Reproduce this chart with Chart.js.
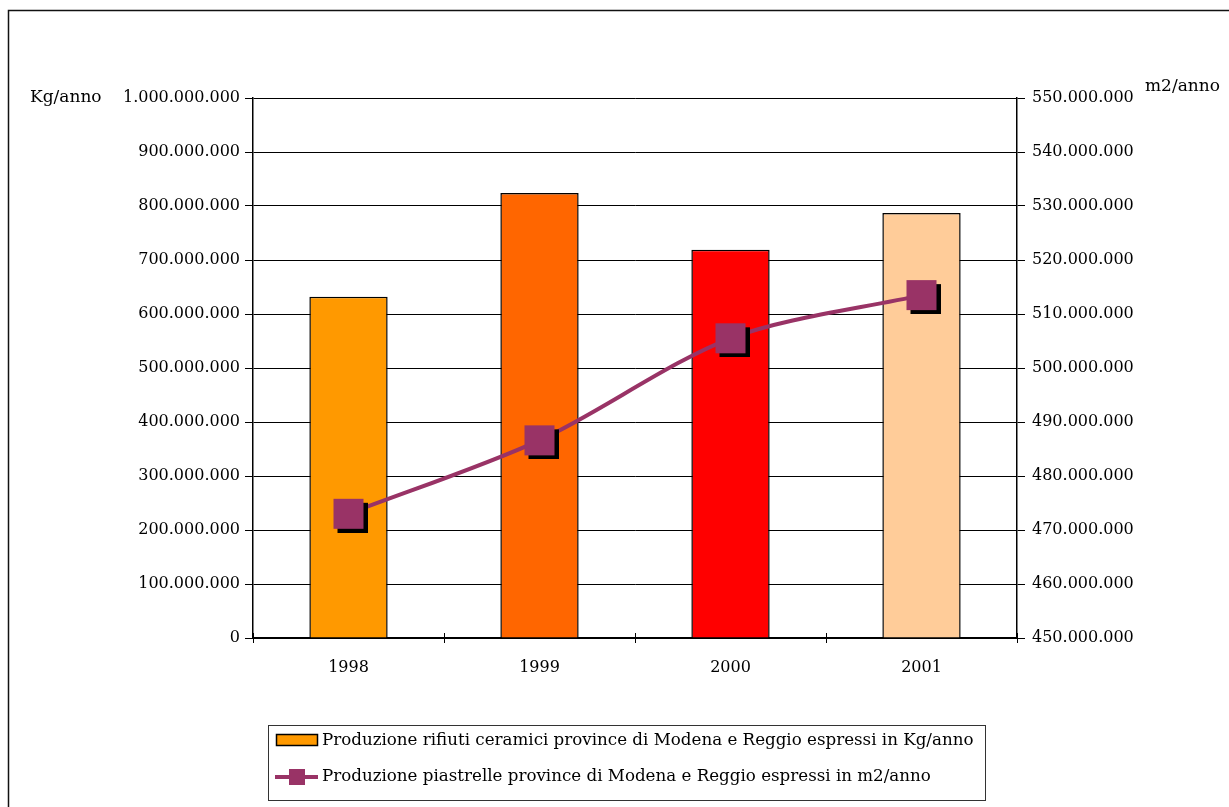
<!DOCTYPE html>
<html>
<head>
<meta charset="utf-8">
<script src="https://cdn.jsdelivr.net/npm/chart.js@4/dist/chart.umd.min.js"></script>
<style>
  body { margin: 0; background: #fff; }
  canvas { display: block; }
</style>
</head>
<body>
<canvas id="grafico" width="1229" height="807"></canvas>
<script>
// dati
const anni = ['1998', '1999', '2000', '2001'];
const rifiutiKg = [632000000, 824000000, 719000000, 787000000];
const piastrelleM2 = [473000000, 486600000, 505500000, 513500000];
const coloriBarre = ['#FF9900', '#FF6600', '#FF0000', '#FFCC99'];
const etichettaRifiuti = 'Produzione rifiuti ceramici province di Modena e Reggio espressi in Kg/anno';
const etichettaPiastrelle = 'Produzione piastrelle province di Modena e Reggio espressi in m2/anno';

const FONT = 'DejaVu Serif';
const PLUM = '#993366';

function formatta(v) {
    return String(Math.round(v)).replace(/\B(?=(\d{3})+(?!\d))/g, '.');
}

// marcatore quadrato con ombra
function marcatore(size, off) {
    const c = document.createElement('canvas');
    const tot = size + off * 2;
    c.width = tot; c.height = tot;
    const g = c.getContext('2d');
    g.fillStyle = '#000';
    g.fillRect(off * 2, off * 2, size, size);
    g.fillStyle = PLUM;
    g.fillRect(off, off, size, size);
    return c;
}

const cornice = {
    id: 'cornice',
    beforeDraw(chart) {
        const ctx = chart.ctx;
        ctx.save();
        ctx.strokeStyle = '#111';
        ctx.lineWidth = 1.5;
        ctx.strokeRect(8.5, 10.5, 1400, 1000);
        ctx.restore();
    },
    afterDraw(chart) {
        const ctx = chart.ctx;
        const x = chart.scales.x;
        ctx.save();
        // tacche che attraversano l'asse x
        ctx.strokeStyle = '#000';
        ctx.lineWidth = 1;
        for (let i = 0; i <= anni.length; i++) {
            const px = Math.round(x.left + (x.right - x.left) * i / anni.length) + 0.5;
            ctx.beginPath();
            ctx.moveTo(px, x.top - 5);
            ctx.lineTo(px, x.top + 5);
            ctx.stroke();
        }

        ctx.font = '17px "' + FONT + '"';
        ctx.fillStyle = '#000';
        ctx.textBaseline = 'middle';
        ctx.textAlign = 'left';
        ctx.fillText('Kg/anno', 30, 98);
        ctx.fillText('m2/anno', 1145, 87);

        // legenda
        ctx.font = '16.7px "' + FONT + '"';
        ctx.strokeStyle = '#333';
        ctx.lineWidth = 1;
        ctx.strokeRect(268.5, 725.5, 717, 75);
        ctx.fillStyle = '#FF9900';
        ctx.fillRect(276, 734, 42, 12);
        ctx.strokeStyle = '#000';
        ctx.lineWidth = 1.5;
        ctx.strokeRect(276.5, 734.5, 41, 11);
        ctx.fillStyle = '#000';
        ctx.fillText(etichettaRifiuti, 322, 741);

        ctx.strokeStyle = PLUM;
        ctx.lineWidth = 4;
        ctx.beginPath();
        ctx.moveTo(275, 777);
        ctx.lineTo(318, 777);
        ctx.stroke();
        ctx.fillStyle = PLUM;
        ctx.fillRect(289, 769, 16, 16);
        ctx.fillStyle = '#000';
        ctx.fillText(etichettaPiastrelle, 322, 777);
        ctx.restore();
    }
};

new Chart(document.getElementById('grafico'), {
    data: {
        labels: anni,
        datasets: [
            {
                type: 'line',
                label: etichettaPiastrelle,
                data: piastrelleM2,
                yAxisID: 'y2',
                borderColor: PLUM,
                borderWidth: 4,
                tension: 0.3,
                pointStyle: marcatore(30, 4),
                pointRadius: 15,
                order: 0
            },
            {
                type: 'bar',
                label: etichettaRifiuti,
                data: rifiutiKg,
                yAxisID: 'y',
                backgroundColor: coloriBarre,
                borderColor: '#000',
                borderWidth: 1.5,
                barPercentage: 0.41,
                categoryPercentage: 1,
                order: 1
            }
        ]
    },
    options: {
        responsive: false,
        animation: false,
        layout: { padding: { top: 98, left: 0, right: 0, bottom: 0 } },
        plugins: {
            legend: { display: false },
            tooltip: { enabled: false }
        },
        scales: {
            x: {
                offset: true,
                grid: { drawOnChartArea: false, color: '#000', tickLength: 5 },
                border: { color: '#000', width: 1.5 },
                ticks: { color: '#000', font: { family: FONT, size: 16 }, padding: 15 },
                afterFit(s) { s.height = 169; }
            },
            y: {
                position: 'left',
                min: 0,
                max: 1000000000,
                grid: { color: '#000', lineWidth: 1, tickLength: 8 },
                border: { color: '#000', width: 1.5 },
                ticks: {
                    stepSize: 100000000,
                    color: '#000',
                    font: { family: FONT, size: 16 },
                    padding: 5,
                    callback: v => formatta(v)
                },
                afterFit(s) { s.width = 253; }
            },
            y2: {
                position: 'right',
                min: 450000000,
                max: 550000000,
                grid: { drawOnChartArea: false, color: '#000', tickLength: 8 },
                border: { color: '#000', width: 1.5 },
                ticks: {
                    stepSize: 10000000,
                    color: '#000',
                    font: { family: FONT, size: 16 },
                    padding: 7,
                    callback: v => formatta(v)
                },
                afterFit(s) { s.width = 212; }
            }
        }
    },
    plugins: [cornice]
});
</script>
</body>
</html>
